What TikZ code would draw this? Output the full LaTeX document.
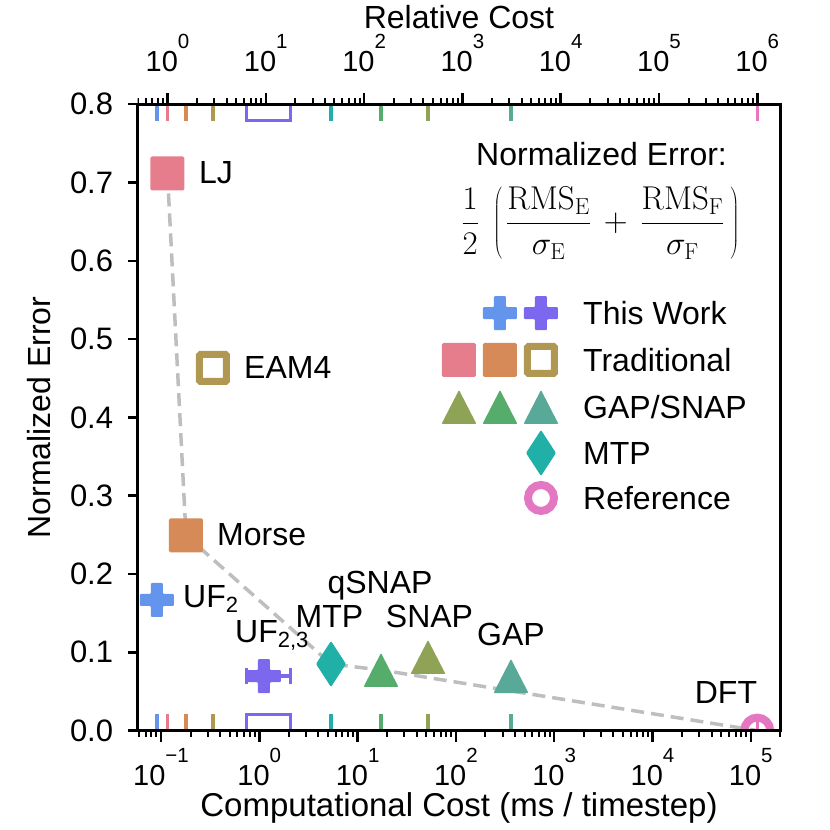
\RequirePackage{fix-cm}
\documentclass[tikz,border=0pt]{standalone}
\usepackage[no-math]{fontspec}
\setmainfont{Liberation Sans}
\usepackage{tikz}

\definecolor{ljcol}{RGB}{229,125,141}
\definecolor{morsecol}{RGB}{213,138,87}
\definecolor{eamcol}{RGB}{176,152,82}
\definecolor{snapcol}{RGB}{143,163,86}
\definecolor{qsnapcol}{RGB}{86,173,107}
\definecolor{gapcol}{RGB}{88,169,152}
\definecolor{mtpcol}{RGB}{32,176,167}
\definecolor{uftwo}{RGB}{100,149,237}
\definecolor{ufthree}{RGB}{123,104,238}
\definecolor{dftcol}{RGB}{227,119,194}
\definecolor{frontgray}{RGB}{190,190,190}

\tikzset{
  ptlab/.style={font=\fontsize{32}{38}\selectfont, inner sep=0pt},
  axlab/.style={font=\fontsize{33}{39}\selectfont, inner sep=0pt},
  ticklab/.style={font=\fontsize{31}{37}\selectfont, inner sep=0pt},
  logticklab/.style={font=\fontsize{29}{35}\selectfont, inner sep=0pt, anchor=base},
  spine/.style={line width=3pt},
  majortick/.style={line width=2.5pt},
  minortick/.style={line width=2pt},
  front/.style={draw=frontgray, line width=3.5pt, dash pattern=on 13pt off 7pt},
}

\newcommand{\sqmark}[2]{ \fill[#2, rounded corners=1.5pt] (#1) ++(-17pt,-17pt) rectangle ++(34pt,34pt);}
\newcommand{\boxmark}[2]{ \draw[#2, line width=7pt, rounded corners=1pt] (#1) ++(-13.5pt,-13.5pt) rectangle ++(27pt,27pt);}
\newcommand{\trimark}[2]{ \fill[#2, rounded corners=1pt] (#1) ++(0,17pt) -- ++(17.5pt,-34pt) -- ++(-35pt,0) -- cycle;}
\newcommand{\dmdmark}[2]{ \fill[#2, rounded corners=1pt] (#1) ++(0,23pt) -- ++(15pt,-23pt) -- ++(-15pt,-23pt) -- ++(-15pt,23pt) -- cycle;}
\newcommand{\ringmark}[2]{ \draw[#2, line width=8pt] (#1) circle (13pt);}
\newcommand{\plusmark}[2]{ \fill[#2, rounded corners=1pt] (#1) ++(-6pt,-17pt) -- ++(12pt,0) -- ++(0,11pt) -- ++(11pt,0)
  -- ++(0,12pt) -- ++(-11pt,0) -- ++(0,11pt) -- ++(-12pt,0) -- ++(0,-11pt) -- ++(-11pt,0) -- ++(0,-12pt) -- ++(11pt,0) -- cycle;}
\newcommand{\rug}[2]{ \draw[#2, line width=3.5pt] (#1,0) -- ++(0,17pt); \draw[#2, line width=3.5pt] (#1,0.8) -- ++(0,-17pt);}
\newcommand{\dec}[1]{10\raisebox{23pt}{\fontsize{20.5}{20.5}\selectfont #1}}
\newcommand{\lowsub}[1]{\raisebox{-5pt}{\fontsize{22}{22}\selectfont #1}}

\begin{document}
\begin{tikzpicture}[x=98.3pt, y=783pt]
        \useasboundingbox (-2.6378,-0.12695) rectangle (5.8057,0.93308);

        % models
        \coordinate (uf2) at (-1.043,0.1668);
        \coordinate (lj) at (-0.934,0.7115);
        \coordinate (morse) at (-0.7457,0.2492);
        \coordinate (eam) at (-0.471,0.4631);
        \coordinate (uf23) at (0.0478,0.0697);
        \coordinate (ufa) at (-0.1302,0.0697);
        \coordinate (ufb) at (0.3174,0.0697);
        \coordinate (mtp) at (0.7294,0.0851);
        \coordinate (qsnap) at (1.238,0.0774);
        \coordinate (snap) at (1.7162,0.094);
        \coordinate (gap) at (2.5605,0.0697);
        \coordinate (dft) at (5.066,0);

        \begin{scope}
        \clip (-1.239,0) rectangle (5.307,0.8);
        \draw[front] (lj) -- (morse) -- (mtp) -- (qsnap) -- (dft);

        \draw[ufthree, line width=3.5pt] (ufa) -- (ufb);
        \draw[ufthree, line width=3pt] (ufa) ++(0,-8pt) -- ++(0,16pt);
        \draw[ufthree, line width=3pt] (ufb) ++(0,-8pt) -- ++(0,16pt);

        \plusmark{uf2}{uftwo}
        \plusmark{uf23}{ufthree}
        \sqmark{lj}{ljcol}
        \sqmark{morse}{morsecol}
        \boxmark{eam}{eamcol}
        \dmdmark{mtp}{mtpcol}
        \trimark{qsnap}{qsnapcol}
        \trimark{snap}{snapcol}
        \trimark{gap}{gapcol}
        \ringmark{dft}{dftcol}
        \end{scope}

        % rug ticks
        \rug{-1.043}{uftwo}
        \rug{-0.934}{ljcol}
        \rug{-0.7457}{morsecol}
        \rug{-0.471}{eamcol}
        \rug{0.7294}{mtpcol}
        \rug{1.238}{qsnapcol}
        \rug{1.7162}{snapcol}
        \rug{2.5605}{gapcol}
        \rug{5.066}{dftcol}
        \draw[ufthree, line width=3pt] (-0.1302,0) -- ++(0,16pt) -| (0.3174,0);
        \draw[ufthree, line width=3pt] (-0.1302,0.8) -- ++(0,-16pt) -| (0.3174,0.8);

        % axes
        \draw[spine] (-1.239,0) rectangle (5.307,0.8);
        \foreach \i in {0,...,8} {
          \draw[majortick] (-1.239,\i/10) -- ++(-10pt,0);
          \node[ticklab, anchor=east] (yl\i) at (-1.4852,\i/10) {0.\i};
        }
        \begin{scope}
        \clip (-1.239,-0.2) rectangle (5.307,1);
        \foreach \k in {-2,...,5} \foreach \m in {2,...,9}
          \draw[minortick] ({\k+log10(\m)},0) -- ++(0,-6pt);
        \foreach \k in {-1,...,6} \foreach \m in {2,...,9}
          \draw[minortick] ({\k-0.934+log10(\m)},0.8) -- ++(0,6pt);
        \end{scope}
        \foreach \k/\e [count=\n] in {-1/−1,0/0,1/1,2/2,3/3,4/4,5/5} {
          \draw[majortick] (\k,0) -- ++(0,-11pt);
          \node[logticklab] (bx\n) at (\k,-0.0695) {\dec{\e}};
        }
        \foreach \k [count=\n] in {0,...,6} {
          \draw[majortick] ({\k-0.934},0.8) -- ++(0,11pt);
          \node[logticklab] (tx\n) at ({\k-0.934},0.8415) {\dec{\k}};
        }
        \node[axlab, anchor=base] (xlab) at (2.0315,-0.1094) {Computational Cost (ms / timestep)};
        \node[ptlab, anchor=base] (toplab) at (2.0315,0.8973) {Relative Cost};
        \node[ptlab, anchor=base, rotate=90] (ylab) at (-2.129,0.4) {Normalized Error};

        % point labels
        \node[ptlab, anchor=base west] (ljlab) at (-0.6134,0.6981) {LJ};
        \node[ptlab, anchor=base west] (eamlab) at (-0.1556,0.4503) {EAM4};
        \node[ptlab, anchor=base west] (morselab) at (-0.4303,0.2358) {Morse};
        \node[ptlab, anchor=base west] (uf2lab) at (-0.7762,0.1566) {UF\lowsub{2}};
        \node[ptlab, anchor=base west] (uf23lab) at (-0.2472,0.1119) {UF\lowsub{2,3}};
        \node[ptlab, anchor=base] (mtplab) at (0.7141,0.1323) {MTP};
        \node[ptlab, anchor=base] (qsnaplab) at (1.2279,0.1757) {qSNAP};
        \node[ptlab, anchor=base] (snaplab) at (1.7314,0.1323) {SNAP};
        \node[ptlab, anchor=base] (gaplab) at (2.5605,0.1093) {GAP};
        \node[ptlab, anchor=base east] (dftlab) at (5.066,0.0352) {DFT};

        % legend
        \node[ptlab, anchor=base] (legtitle) at (3.4822,0.7211) {Normalized Error:};
        \node[ptlab, font=\fontsize{33}{40}\selectfont] (legmath) at (3.47,0.6483)
          {$\displaystyle\frac{1}{2}\hspace{9pt}\left(\hspace{4pt}\frac{\mathrm{RMS}_{\mathrm{E}}}{\sigma_{\mathrm{E}}}\,+\,\frac{\mathrm{RMS}_{\mathrm{F}}}{\sigma_{\mathrm{F}}}\hspace{6pt}\right)$};

        % row1
        \plusmark{2.4486,0.5333}{uftwo}
        \plusmark{2.8657,0.5333}{ufthree}
        \node[ptlab, anchor=base west] (legwork) at (3.293,0.5186) {This Work};
        % row2
        \sqmark{2.0315,0.4733}{ljcol}
        \sqmark{2.4486,0.4733}{morsecol}
        \boxmark{2.8657,0.4733}{eamcol}
        \node[ptlab, anchor=base west] (legtrad) at (3.293,0.4586) {Traditional};
        % row3
        \trimark{2.0315,0.4133}{snapcol}
        \trimark{2.4486,0.4133}{qsnapcol}
        \trimark{2.8657,0.4133}{gapcol}
        \node[ptlab, anchor=base west] (legsnap) at (3.293,0.3986) {GAP/SNAP};
        % row4
        \dmdmark{2.8657,0.3545}{mtpcol}
        \node[ptlab, anchor=base west] (legmtp) at (3.293,0.3398) {MTP};
        % row5
        \ringmark{2.8657,0.2971}{dftcol}
        \node[ptlab, anchor=base west] (legref) at (3.293,0.2824) {Reference};

    \end{tikzpicture}
\end{document}
